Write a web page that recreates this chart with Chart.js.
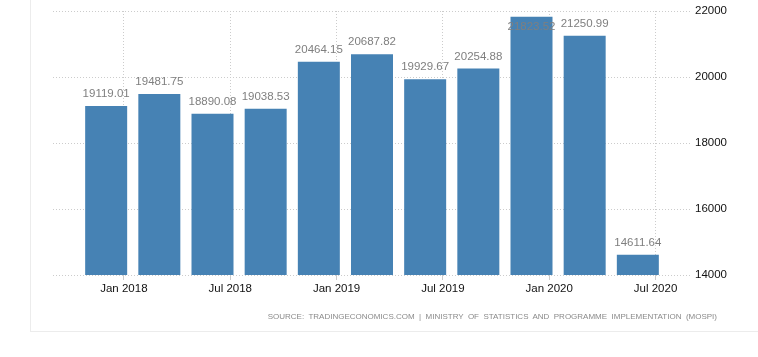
<!DOCTYPE html>
<html>
<head>
<meta charset="utf-8">
<script src="https://cdn.jsdelivr.net/npm/chart.js@4/dist/chart.umd.min.js"></script>
<style>
  html, body { margin: 0; padding: 0; background: #fff; }
  #wrap { position: relative; width: 758px; height: 357px; overflow: hidden; }
  #frame { position: absolute; left: 30px; top: -2px; width: 740px; height: 333px;
           border-left: 1px solid #ececec; border-bottom: 1px solid #ececec; }
  #source { position: absolute; right: 41px; top: 312px; font: 8px "Liberation Sans", Arial, sans-serif;
            color: #8a8a8a; letter-spacing: 0; word-spacing: 2.2px; white-space: nowrap; }
  canvas { position: absolute; left: 0; top: 0; }
</style>
</head>
<body>
<div id="wrap">
  <div id="frame"></div>
  <canvas id="c" width="758" height="357"></canvas>
  <div id="source">SOURCE: TRADINGECONOMICS.COM | MINISTRY OF STATISTICS AND PROGRAMME IMPLEMENTATION (MOSPI)</div>
</div>
<script>
// Quarter labels and month offsets (months from Jan 2018)
const quarters = ["Q4 2017","Q1 2018","Q2 2018","Q3 2018","Q4 2018","Q1 2019","Q2 2019","Q3 2019","Q4 2019","Q1 2020","Q2 2020"];
const monthOffsets = [-1, 2, 5, 8, 11, 14, 17, 20, 23, 26, 29];
const values = [19119.01, 19481.75, 18890.08, 19038.53, 20464.15, 20687.82, 19929.67, 20254.88, 21823.52, 21250.99, 14611.64];
const tickMonths = [0, 6, 12, 18, 24, 30];
const tickLabels = ["Jan 2018", "Jul 2018", "Jan 2019", "Jul 2019", "Jan 2020", "Jul 2020"];
const yTicks = [14000, 16000, 18000, 20000, 22000];

const FONT = '"Liberation Sans", Arial, sans-serif';

const valueLabels = {
  id: 'valueLabels',
  afterDatasetsDraw(chart) {
    const ctx = chart.ctx;
    const meta = chart.getDatasetMeta(0);
    const area = chart.chartArea;
    ctx.save();
    ctx.font = '11.5px ' + FONT;
    ctx.fillStyle = '#7f7f7f';
    ctx.textAlign = 'center';
    ctx.textBaseline = 'middle';
    meta.data.forEach((bar, i) => {
      let y = bar.y - 12;
      if (y - 6 < area.top) y = bar.y + 10;
      ctx.fillText(values[i].toFixed(2), bar.x, y);
    });
    ctx.restore();
  }
};

new Chart(document.getElementById('c'), {
  type: 'bar',
  data: {
    labels: quarters,
    datasets: [{
      data: monthOffsets.map((m, i) => ({ x: m, y: values[i] })),
      backgroundColor: '#4682b4',
      borderWidth: 0,
      barPercentage: 0.79,
      categoryPercentage: 1
    }]
  },
  options: {
    responsive: false,
    animation: false,
    devicePixelRatio: 1,
    layout: { padding: { left: 53, top: 11, right: 0, bottom: 0 } },
    plugins: { legend: { display: false }, tooltip: { enabled: false } },
    scales: {
      x: {
        type: 'linear',
        offset: false,
        min: -4,
        max: 32,
        afterBuildTicks(scale) { scale.ticks = tickMonths.map(v => ({ value: v })); },
        afterFit(scale) { scale.height = 82; },
        border: { display: false, dash: [1, 2] },
        grid: { offset: false, color: '#cccccc', lineWidth: 1, tickLength: 5, drawTicks: true },
        ticks: {
          autoSkip: false,
          maxRotation: 0,
          padding: 2,
          color: '#111',
          font: { size: 11.5, family: FONT },
          callback: (v) => { const i = tickMonths.indexOf(v); return i >= 0 ? tickLabels[i] : ''; }
        }
      },
      y: {
        position: 'right',
        min: 14000,
        max: 22000,
        afterBuildTicks(scale) { scale.ticks = yTicks.map(v => ({ value: v })); },
        afterFit(scale) { scale.width = 67; },
        border: { display: false, dash: [1, 2] },
        grid: { color: '#cccccc', lineWidth: 1, drawTicks: false },
        ticks: {
          padding: 4,
          color: '#111',
          font: { size: 11.5, family: FONT },
          callback: (v) => String(v)
        }
      }
    }
  },
  plugins: [valueLabels]
});
</script>
</body>
</html>
